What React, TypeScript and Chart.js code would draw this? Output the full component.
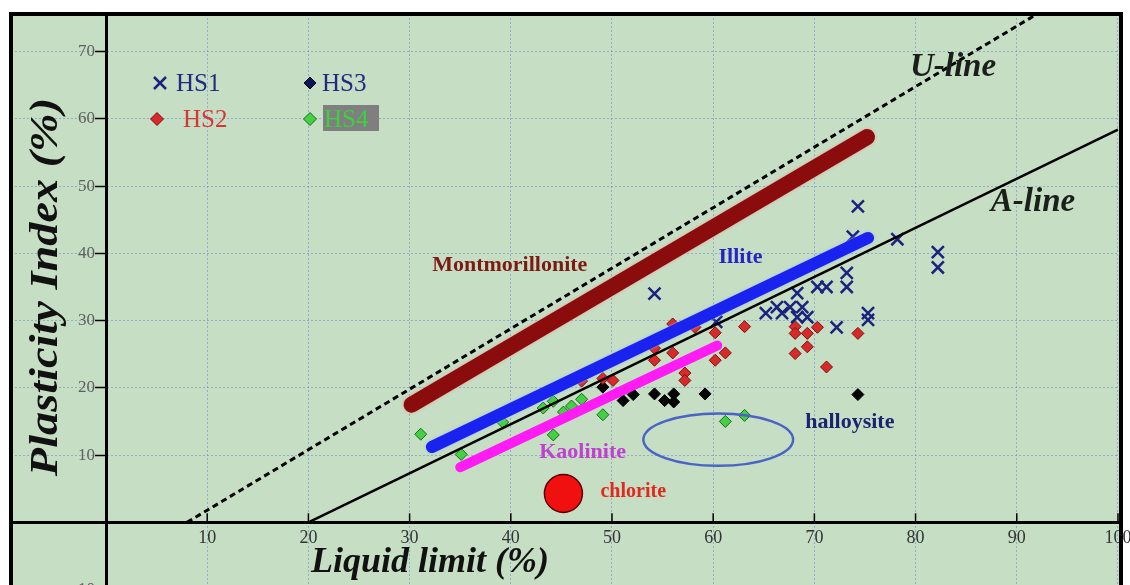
import React, { useEffect, useRef } from "react";
import { Chart, registerables } from "chart.js";
Chart.register(...registerables);

// ---- data (Liquid limit %, Plasticity index %) ----
const hs1LL = [54.2, 60.3, 65.2, 66.3, 66.8, 67.6, 68.8, 68.3, 68.3, 69.3, 70.3, 71.2, 72.2, 73.2, 73.2, 73.8, 74.3, 75.3, 75.3, 78.2, 82.2, 82.2];
const hs1PI = [34.0, 29.8, 31.1, 32.0, 31.1, 32.0, 32.0, 34.1, 30.5, 30.5, 35.0, 35.0, 29.0, 37.1, 35.0, 42.5, 47.0, 31.1, 30.1, 42.1, 40.2, 37.9];

const hs2LL = [47.0, 49.1, 50.1, 54.2, 54.2, 56.0, 56.0, 57.2, 57.2, 58.2, 60.2, 60.2, 61.2, 63.1, 68.1, 68.1, 68.1, 69.3, 69.3, 70.3, 71.2, 74.3];
const hs2PI = [21.0, 21.4, 21.1, 25.9, 24.1, 29.5, 25.2, 22.2, 21.1, 29.0, 28.2, 24.1, 25.2, 29.1, 29.1, 28.1, 25.1, 28.1, 26.1, 29.0, 23.1, 28.1];

const hs3LL = [49.1, 51.1, 52.1, 54.2, 55.2, 56.1, 56.1, 59.2, 74.3];
const hs3PI = [20.1, 18.1, 19.0, 19.1, 18.1, 19.1, 17.9, 19.1, 19.0];

const hs4LL = [31.1, 35.1, 39.2, 43.2, 44.2, 44.2, 45.2, 46.0, 47.0, 49.1, 61.2, 63.1];
const hs4PI = [13.1, 10.1, 14.9, 17.0, 18.0, 13.0, 16.4, 17.3, 18.3, 16.0, 15.0, 15.9];

// reference lines
const uLineLL = [8, 94];
const uLinePI = [0, 77.4];
const aLineLL = [20, 100];
const aLinePI = [0, 58.4];

// clay mineral zones
const montLL = [30.2, 75.2];
const montPI = [17.5, 57.3];
const illiteLL = [32.2, 75.3];
const illitePI = [11.2, 42.3];
const kaolLL = [35.0, 60.4];
const kaolPI = [8.2, 26.3];
const chloriteLL = [45.2];
const chloritePI = [4.3];
const halloysiteCenter = [60.5, 12.3];
const halloysiteRadii = [7.4, 3.9];

const xTickVals = [0, 10, 20, 30, 40, 50, 60, 70, 80, 90, 100];
const yTickVals = [-10, 0, 10, 20, 30, 40, 50, 60, 70];

const seriesNames = ["HS1", "HS2", "HS3", "HS4"];
const mineralLabels = ["Montmorillonite", "Illite", "Kaolinite", "halloysite", "chlorite"];
const mineralLabelLL = [39.9, 62.7, 47.1, 73.5, 52.1];
const mineralLabelPI = [38.2, 39.4, 10.4, 14.9, 4.5];
const lineLabels = ["U-line", "A-line"];
const lineLabelLL = [83.7, 91.6];
const lineLabelPI = [67.6, 47.5];
const xTitle = "Liquid limit (%)";
const yTitle = "Plasticity Index (%)";

const zip = (xs: number[], ys: number[]) => xs.map((x, i) => ({ x, y: ys[i] }));

const SERIF = "'Liberation Serif', 'Times New Roman', serif";

function drawDiamond(ctx: CanvasRenderingContext2D, x: number, y: number, r: number, fill: string, stroke: string) {
  ctx.beginPath();
  ctx.moveTo(x, y - r);
  ctx.lineTo(x + r, y);
  ctx.lineTo(x, y + r);
  ctx.lineTo(x - r, y);
  ctx.closePath();
  ctx.fillStyle = fill;
  ctx.fill();
  ctx.lineWidth = 1;
  ctx.strokeStyle = stroke;
  ctx.stroke();
}

function drawCross(ctx: CanvasRenderingContext2D, x: number, y: number, r: number, color: string) {
  ctx.beginPath();
  ctx.moveTo(x - r, y - r);
  ctx.lineTo(x + r, y + r);
  ctx.moveTo(x + r, y - r);
  ctx.lineTo(x - r, y + r);
  ctx.lineWidth = 2.5;
  ctx.strokeStyle = color;
  ctx.stroke();
}

const zeroPad = (s: any) => {
  s.paddingLeft = 0;
  s.paddingRight = 0;
  s.paddingTop = 0;
  s.paddingBottom = 0;
};

const haloColors: Record<string, string> = {
  Montmorillonite: "rgba(240,150,140,0.95)",
  Illite: "rgba(150,190,255,0.95)",
};

const decorPlugin = {
  id: "decor",
  beforeDraw(chart: any) {
    const { ctx, chartArea: a } = chart;
    ctx.save();
    ctx.fillStyle = "#c6dec4";
    ctx.fillRect(a.left, a.top, a.right - a.left, a.bottom - a.top);
    ctx.restore();
  },
  beforeDatasetDraw(chart: any, args: any) {
    const label = chart.data.datasets[args.index].label;
    const halo = haloColors[label];
    if (halo) {
      chart.ctx.save();
      chart.ctx.shadowColor = halo;
      chart.ctx.shadowBlur = 3;
    }
  },
  afterDatasetDraw(chart: any, args: any) {
    const label = chart.data.datasets[args.index].label;
    if (haloColors[label]) chart.ctx.restore();
  },
  afterDatasetsDraw(chart: any) {
    const { ctx, scales } = chart;
    const xs = scales.x;
    const ys = scales.y;
    // halloysite ellipse
    const cx = xs.getPixelForValue(halloysiteCenter[0]);
    const cy = ys.getPixelForValue(halloysiteCenter[1]);
    const rx = Math.abs(xs.getPixelForValue(halloysiteCenter[0] + halloysiteRadii[0]) - cx);
    const ry = Math.abs(ys.getPixelForValue(halloysiteCenter[1] + halloysiteRadii[1]) - cy);
    ctx.save();
    ctx.beginPath();
    ctx.ellipse(cx, cy, rx, ry, 0, 0, Math.PI * 2);
    ctx.lineWidth = 2.5;
    ctx.strokeStyle = "#4b62c6";
    ctx.stroke();
    ctx.restore();
  },
  afterDraw(chart: any) {
    const { ctx, chartArea: a, scales } = chart;
    const xs = scales.x;
    const ys = scales.y;
    ctx.save();

    // x tick marks pointing up from the axis
    const y0 = ys.getPixelForValue(0);
    const x0 = xs.getPixelForValue(0);
    ctx.strokeStyle = "#000";
    ctx.lineWidth = 1.5;
    xs.ticks.forEach((t: any) => {
      if (t.value === 0) return;
      const px = xs.getPixelForValue(t.value);
      ctx.beginPath();
      ctx.moveTo(px, y0 - 1);
      ctx.lineTo(px, y0 - 9);
      ctx.stroke();
    });

    // y tick labels left of the tick marks
    ctx.font = `17px ${SERIF}`;
    ctx.fillStyle = "#5e5e5e";
    ctx.textAlign = "right";
    ctx.textBaseline = "middle";
    ys.ticks.forEach((t: any) => {
      if (t.value === 0) return;
      ctx.fillText(String(t.value), x0 - 11, ys.getPixelForValue(t.value));
    });

    // mineral labels
    const mColors = ["#7d1a14", "#2424c8", "#c040d0", "#1c2370", "#e02a20"];
    const mSizes = [22, 22, 22, 22, 20];
    ctx.textAlign = "center";
    ctx.textBaseline = "middle";
    mineralLabels.forEach((t, i) => {
      ctx.font = `bold ${mSizes[i]}px ${SERIF}`;
      ctx.fillStyle = mColors[i];
      ctx.fillText(t, xs.getPixelForValue(mineralLabelLL[i]), ys.getPixelForValue(mineralLabelPI[i]));
    });

    // U-line / A-line labels
    ctx.font = `bold italic 33px ${SERIF}`;
    ctx.fillStyle = "#1a1f1a";
    lineLabels.forEach((t, i) => {
      ctx.fillText(t, xs.getPixelForValue(lineLabelLL[i]), ys.getPixelForValue(lineLabelPI[i]));
    });

    // axis titles
    ctx.fillStyle = "#111";
    ctx.font = `bold italic 36px ${SERIF}`;
    ctx.fillText(xTitle, 430, 563);
    ctx.save();
    ctx.translate(46, 287);
    ctx.rotate(-Math.PI / 2);
    ctx.scale(1.13, 1);
    ctx.font = `bold italic 41px ${SERIF}`;
    ctx.fillText(yTitle, 0, 0);
    ctx.restore();

    // legend
    const ds = chart.data.datasets;
    ctx.font = `25px ${SERIF}`;
    ctx.textAlign = "left";
    ctx.textBaseline = "middle";
    // HS1
    drawCross(ctx, 160, 83, 6, ds[0].borderColor);
    ctx.fillStyle = "#1f2a80";
    ctx.fillText(ds[0].label, 176, 84);
    // HS3
    drawDiamond(ctx, 310, 83, 6, "#0d1560", "#000");
    ctx.fillStyle = "#1f2a80";
    ctx.fillText(ds[2].label, 322, 84);
    // HS2
    drawDiamond(ctx, 157, 119, 6.5, ds[1].backgroundColor, ds[1].borderColor);
    ctx.fillStyle = "#d8353a";
    ctx.fillText(ds[1].label, 183, 120);
    // HS4
    drawDiamond(ctx, 310, 119, 6.5, ds[3].backgroundColor, ds[3].borderColor);
    ctx.fillStyle = "#7f7f7f";
    ctx.fillRect(323, 105, 56, 26);
    ctx.fillStyle = "#3ed03e";
    ctx.fillText(ds[3].label, 324, 120);

    // frame
    ctx.lineWidth = 4;
    ctx.strokeStyle = "#000";
    ctx.strokeRect(a.left, a.top, a.right - a.left, a.bottom - a.top);
    ctx.restore();
  },
};

export default function App() {
  const ref = useRef<HTMLCanvasElement | null>(null);

  useEffect(() => {
    if (!ref.current) return;
    const chart = new Chart(ref.current, {
      type: "scatter",
      data: {
        datasets: [
          {
            label: seriesNames[0],
            data: zip(hs1LL, hs1PI),
            pointStyle: "crossRot",
            pointRadius: 8.5,
            borderWidth: 2.5,
            borderColor: "#1a237e",
            backgroundColor: "#1a237e",
            order: 5,
          },
          {
            label: seriesNames[1],
            data: zip(hs2LL, hs2PI),
            pointStyle: "rectRot",
            pointRadius: 6,
            borderWidth: 1,
            borderColor: "#7a1010",
            backgroundColor: "#d82a2a",
            order: 5,
          },
          {
            label: seriesNames[2],
            data: zip(hs3LL, hs3PI),
            pointStyle: "rectRot",
            pointRadius: 6,
            borderWidth: 1,
            borderColor: "#000000",
            backgroundColor: "#050505",
            order: 5,
          },
          {
            label: seriesNames[3],
            data: zip(hs4LL, hs4PI),
            pointStyle: "rectRot",
            pointRadius: 6,
            borderWidth: 1,
            borderColor: "#1d6a1d",
            backgroundColor: "#43d043",
            order: 5,
          },
          {
            label: "U-line",
            data: zip(uLineLL, uLinePI),
            showLine: true,
            pointRadius: 0,
            borderColor: "#000",
            borderWidth: 3,
            borderDash: [6, 4],
            order: 2,
          },
          {
            label: "A-line",
            data: zip(aLineLL, aLinePI),
            showLine: true,
            pointRadius: 0,
            borderColor: "#000",
            borderWidth: 2.5,
            order: 2,
          },
          {
            label: "Montmorillonite",
            data: zip(montLL, montPI),
            showLine: true,
            pointRadius: 0,
            borderColor: "#8a0c0c",
            borderWidth: 16,
            borderCapStyle: "round",
            order: 1,
          },
          {
            label: "Illite",
            data: zip(illiteLL, illitePI),
            showLine: true,
            pointRadius: 0,
            borderColor: "#1a22f0",
            borderWidth: 12,
            borderCapStyle: "round",
            order: 1,
          },
          {
            label: "Kaolinite",
            data: zip(kaolLL, kaolPI),
            showLine: true,
            pointRadius: 0,
            borderColor: "#ff1cf4",
            borderWidth: 10,
            borderCapStyle: "round",
            order: 1,
          },
          {
            label: "chlorite",
            data: zip(chloriteLL, chloritePI),
            pointStyle: "circle",
            pointRadius: 19,
            borderWidth: 1.5,
            borderColor: "#5a0000",
            backgroundColor: "#f01010",
            order: 1,
          },
        ],
      },
      options: {
        animation: false,
        responsive: false,
        layout: { autoPadding: false, padding: { left: 11, right: 9, top: 14, bottom: 10 } },
        plugins: {
          legend: { display: false },
          tooltip: { enabled: false },
        },
        scales: {
          x: {
            type: "linear",
            min: -9.39,
            max: 100.3,
            position: { y: 0 },
            afterBuildTicks: (s: any) => {
              s.ticks = xTickVals.map((v) => ({ value: v }));
            },
            afterFit: zeroPad,
            ticks: {
              autoSkip: false,
              maxRotation: 0,
              color: "#333",
              font: { family: SERIF, size: 18 },
              padding: 5,
              callback: (v: any) => (v === 0 ? "" : String(v)),
            },
            grid: {
              color: "rgba(110,140,205,0.6)",
              lineWidth: 1,
              drawTicks: false,
            },
            border: { display: true, color: "#000", width: 3, dash: [2, 2] },
          },
          y: {
            type: "linear",
            min: -12,
            max: 75.6,
            position: { x: 0 },
            afterBuildTicks: (s: any) => {
              s.ticks = yTickVals.map((v) => ({ value: v }));
            },
            afterFit: zeroPad,
            ticks: {
              display: false,
            },
            grid: {
              color: "rgba(110,140,205,0.6)",
              lineWidth: 1,
              tickLength: 10,
              tickColor: "#000",
              tickWidth: 1.5,
            },
            border: { display: true, color: "#000", width: 3, dash: [2, 2] },
          },
        },
      },
      plugins: [decorPlugin],
    });
    return () => chart.destroy();
  }, []);

  return (
    <div style={{ position: "fixed", left: 0, top: 0, width: 1130, height: 585, overflow: "hidden", background: "#fff" }}>
      <canvas ref={ref} width={1130} height={613} style={{ display: "block" }} />
    </div>
  );
}
